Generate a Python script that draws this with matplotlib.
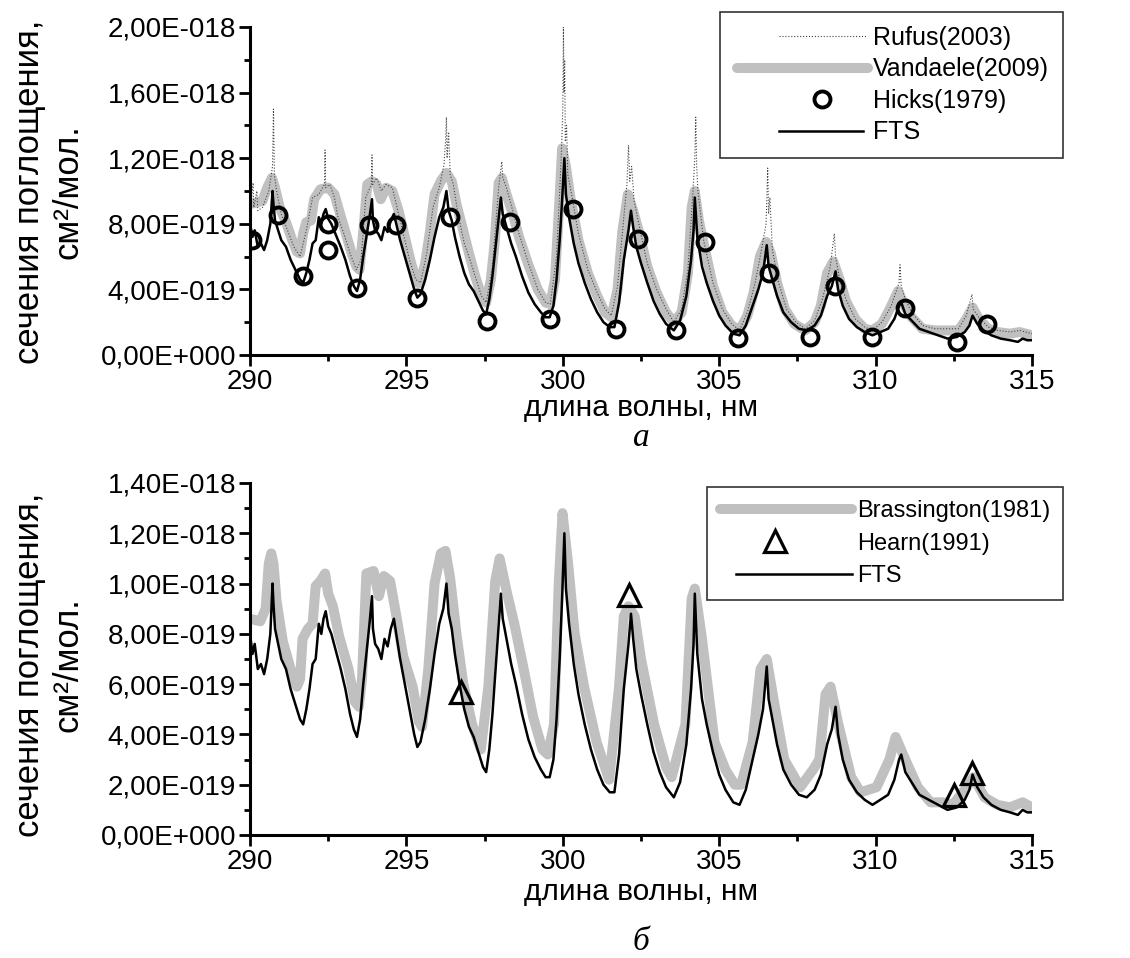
import numpy as np
import matplotlib.pyplot as plt
from matplotlib.ticker import FixedLocator, FuncFormatter
from matplotlib.legend_handler import HandlerLine2D

plt.rcParams['font.family'] = ['Liberation Sans', 'DejaVu Sans']

# all cross sections below are in units of 1e-19 cm^2/molecule, (wavelength nm, value)
fts = [
    (290.00, 6.0), (290.02, 7.8), (290.08, 7.2), (290.15, 7.6), (290.25, 6.6), (290.35, 6.8),
    (290.45, 6.4), (290.55, 7.0), (290.65, 8.0), (290.72, 10.0), (290.75, 9.2), (290.80, 8.2),
    (290.90, 7.6), (291.00, 7.0), (291.15, 6.6), (291.30, 5.8), (291.45, 5.2), (291.60, 4.6),
    (291.70, 4.4), (291.80, 5.0), (291.90, 5.8), (292.00, 6.8), (292.10, 7.0), (292.20, 8.4),
    (292.28, 8.0), (292.35, 8.6), (292.42, 8.9), (292.50, 8.3), (292.60, 8.0), (292.75, 7.3),
    (292.90, 6.6), (293.05, 5.8), (293.20, 4.8), (293.32, 4.2), (293.42, 3.9), (293.52, 4.6),
    (293.62, 6.0), (293.72, 7.2), (293.82, 8.4), (293.90, 9.5), (293.93, 8.2), (294.00, 7.6),
    (294.10, 7.4), (294.20, 7.0), (294.30, 7.8), (294.40, 7.5), (294.50, 8.2), (294.60, 8.6),
    (294.70, 7.8), (294.80, 7.0), (294.95, 6.0), (295.10, 5.0), (295.25, 4.0), (295.35, 3.5),
    (295.45, 3.7), (295.60, 4.6), (295.75, 5.8), (295.90, 7.2), (296.05, 8.4), (296.18, 9.0),
    (296.28, 10.0), (296.35, 8.8), (296.45, 8.2), (296.55, 7.2), (296.70, 6.0), (296.85, 5.0),
    (297.00, 4.3), (297.15, 3.9), (297.30, 3.3), (297.45, 2.7), (297.55, 2.5), (297.65, 3.4),
    (297.75, 4.8), (297.85, 6.6), (297.95, 8.4), (298.02, 9.6), (298.08, 8.6), (298.20, 7.8),
    (298.35, 6.8), (298.50, 6.0), (298.70, 4.8), (298.90, 3.8), (299.10, 3.1), (299.30, 2.6),
    (299.45, 2.3), (299.58, 2.3), (299.70, 3.0), (299.80, 4.6), (299.90, 7.0), (299.98, 9.5),
    (300.05, 12.0), (300.10, 9.8), (300.20, 8.4), (300.35, 6.8), (300.50, 5.6), (300.70, 4.4),
    (300.90, 3.4), (301.10, 2.6), (301.30, 2.0), (301.50, 1.7), (301.65, 1.7), (301.80, 3.2),
    (301.95, 5.8), (302.10, 7.6), (302.18, 8.8), (302.25, 7.8), (302.35, 6.6), (302.50, 5.6),
    (302.70, 4.4), (302.90, 3.3), (303.10, 2.5), (303.30, 1.9), (303.55, 1.5), (303.75, 2.1),
    (303.95, 3.6), (304.10, 5.8), (304.18, 7.6), (304.22, 9.6), (304.30, 7.2), (304.45, 5.4),
    (304.60, 4.4), (304.80, 3.3), (305.00, 2.4), (305.20, 1.8), (305.45, 1.3), (305.65, 1.2),
    (305.85, 1.8), (306.05, 2.9), (306.25, 4.0), (306.40, 5.0), (306.52, 6.7), (306.58, 5.4),
    (306.70, 4.6), (306.85, 3.6), (307.05, 2.6), (307.30, 2.0), (307.55, 1.6), (307.80, 1.5),
    (308.05, 1.8), (308.25, 2.4), (308.45, 3.6), (308.60, 4.2), (308.72, 5.1), (308.80, 4.0),
    (308.95, 3.0), (309.15, 2.2), (309.40, 1.7), (309.65, 1.4), (309.90, 1.2), (310.15, 1.4),
    (310.40, 1.6), (310.60, 2.2), (310.75, 3.0), (310.82, 3.2), (310.95, 2.5), (311.15, 2.1),
    (311.40, 1.6), (311.70, 1.4), (312.00, 1.2), (312.30, 1.0), (312.60, 1.1), (312.85, 1.4),
    (313.00, 1.8), (313.10, 2.4), (313.25, 1.9), (313.45, 1.5), (313.70, 1.2), (314.00, 1.0),
    (314.30, 0.9), (314.55, 0.8), (314.70, 1.0), (314.85, 0.9), (315.00, 0.9),
]

vandaele = [
    (290.00, 9.2), (290.20, 9.3), (290.40, 9.4), (290.55, 10.2), (290.70, 10.8), (290.80, 10.2),
    (290.95, 9.0), (291.15, 8.1), (291.35, 7.0), (291.50, 6.3), (291.60, 6.2), (291.70, 7.4),
    (291.80, 8.1), (291.95, 8.2), (292.05, 9.5), (292.25, 10.1), (292.50, 10.2), (292.70, 9.8),
    (292.85, 8.8), (293.05, 7.5), (293.25, 6.2), (293.40, 5.4), (293.50, 5.2), (293.62, 7.5),
    (293.75, 10.4), (293.90, 10.6), (294.05, 10.4), (294.18, 9.5), (294.35, 10.2), (294.55, 10.0),
    (294.75, 8.8), (294.95, 7.2), (295.15, 5.6), (295.35, 4.4), (295.45, 4.4), (295.60, 5.6),
    (295.75, 7.5), (295.90, 9.8), (296.10, 10.6), (296.28, 11.1), (296.45, 10.6), (296.60, 9.2),
    (296.80, 7.7), (297.00, 6.2), (297.20, 4.8), (297.40, 3.6), (297.55, 3.2), (297.70, 4.6),
    (297.82, 6.8), (297.95, 10.5), (298.05, 10.8), (298.20, 9.8), (298.40, 8.6), (298.60, 7.2),
    (298.90, 5.5), (299.20, 4.0), (299.45, 3.2), (299.60, 3.1), (299.75, 4.6), (299.88, 9.0),
    (299.98, 12.6), (300.10, 11.5), (300.25, 9.5), (300.50, 7.0), (300.80, 5.0), (301.10, 3.6),
    (301.35, 2.6), (301.55, 2.3), (301.75, 4.0), (301.90, 7.5), (302.08, 9.8), (302.25, 8.8),
    (302.45, 7.4), (302.70, 5.4), (303.00, 3.8), (303.30, 2.6), (303.55, 2.0), (303.80, 2.6),
    (304.00, 5.0), (304.12, 9.0), (304.22, 10.0), (304.35, 8.2), (304.55, 6.4), (304.80, 4.2),
    (305.10, 2.6), (305.40, 1.8), (305.65, 1.5), (305.90, 2.4), (306.10, 3.8), (306.30, 6.0),
    (306.50, 6.9), (306.65, 6.2), (306.85, 4.4), (307.10, 2.8), (307.40, 1.9), (307.75, 1.5),
    (308.05, 2.0), (308.25, 3.0), (308.45, 5.0), (308.65, 5.7), (308.85, 4.6), (309.05, 3.3),
    (309.35, 2.2), (309.65, 1.6), (309.90, 1.5), (310.20, 1.9), (310.45, 2.8), (310.72, 3.9),
    (310.90, 3.1), (311.15, 2.3), (311.50, 1.6), (311.90, 1.5), (312.30, 1.5), (312.65, 1.5),
    (312.90, 2.2), (313.10, 2.9), (313.30, 2.2), (313.60, 1.6), (313.90, 1.4), (314.30, 1.3),
    (314.60, 1.4), (314.80, 1.3), (315.00, 1.2),
]

rufus = [
    (290.00, 8.8), (290.10, 10.5), (290.12, 9.0), (290.22, 10.0), (290.25, 8.8), (290.40, 9.0),
    (290.60, 10.0), (290.72, 11.5), (290.75, 15.0), (290.78, 11.0), (290.85, 10.0), (291.00, 8.6),
    (291.20, 7.6), (291.40, 6.6), (291.60, 6.0), (291.80, 7.6), (292.00, 9.6), (292.20, 9.8),
    (292.38, 10.4), (292.40, 12.5), (292.42, 10.2), (292.55, 10.4), (292.70, 9.6), (292.80, 8.5),
    (293.00, 7.4), (293.20, 6.2), (293.40, 5.2), (293.55, 5.8), (293.70, 9.6), (293.88, 10.4),
    (293.90, 12.2), (293.92, 10.4), (294.05, 10.8), (294.20, 10.0), (294.35, 10.4), (294.55, 10.2),
    (294.70, 9.0), (294.90, 7.4), (295.10, 5.8), (295.30, 4.6), (295.45, 4.4), (295.65, 6.2),
    (295.85, 9.0), (296.05, 10.2), (296.20, 11.6), (296.25, 13.0), (296.28, 14.5), (296.30, 12.0),
    (296.35, 13.6), (296.40, 11.0), (296.50, 10.4), (296.65, 8.6), (296.85, 6.8), (297.00, 6.0),
    (297.20, 4.8), (297.40, 3.6), (297.55, 3.2), (297.75, 5.4), (297.95, 10.2), (298.05, 11.8),
    (298.08, 10.8), (298.20, 10.2), (298.40, 8.8), (298.60, 7.4), (298.90, 5.6), (299.20, 4.0),
    (299.45, 3.2), (299.60, 3.1), (299.80, 6.0), (299.95, 12.0), (300.00, 15.0), (300.02, 20.0),
    (300.04, 16.0), (300.06, 18.0), (300.08, 13.0), (300.12, 14.0), (300.16, 11.0), (300.30, 9.6),
    (300.50, 7.4), (300.80, 5.2), (301.10, 3.8), (301.35, 2.8), (301.55, 2.4), (301.75, 4.2),
    (301.95, 8.4), (302.05, 10.4), (302.10, 12.8), (302.14, 10.6), (302.20, 11.5), (302.28, 9.4),
    (302.45, 7.8), (302.70, 5.6), (303.00, 4.0), (303.30, 2.8), (303.55, 2.0), (303.80, 2.8),
    (304.00, 5.2), (304.15, 9.6), (304.22, 12.0), (304.25, 14.5), (304.28, 11.5), (304.32, 10.0),
    (304.50, 7.0), (304.80, 4.4), (305.10, 2.8), (305.40, 1.9), (305.65, 1.5), (305.90, 2.6),
    (306.15, 4.4), (306.35, 6.4), (306.50, 8.0), (306.55, 11.4), (306.58, 8.6), (306.62, 9.6),
    (306.70, 6.4), (306.90, 4.4), (307.15, 2.8), (307.45, 2.0), (307.75, 1.6), (308.05, 2.1),
    (308.30, 3.4), (308.55, 5.4), (308.68, 7.4), (308.72, 6.0), (308.85, 4.6), (309.05, 3.4),
    (309.35, 2.2), (309.65, 1.7), (309.90, 1.5), (310.20, 2.0), (310.50, 3.0), (310.75, 4.4),
    (310.78, 5.5), (310.82, 4.2), (310.95, 3.4), (311.15, 2.6), (311.50, 1.8), (311.90, 1.6),
    (312.30, 1.6), (312.65, 1.6), (312.90, 2.4), (313.08, 3.7), (313.12, 2.8), (313.30, 2.3),
    (313.60, 1.7), (313.90, 1.5), (314.30, 1.4), (314.60, 1.5), (314.80, 1.4), (315.00, 1.3),
]

brassington = [
    (290.00, 8.6), (290.33, 8.5), (290.50, 9.0), (290.60, 10.8), (290.68, 11.2), (290.75, 10.8),
    (290.85, 9.3), (291.05, 7.7), (291.30, 6.6), (291.50, 5.9), (291.60, 6.2), (291.68, 7.8),
    (291.85, 8.2), (292.00, 8.4), (292.10, 9.9), (292.25, 10.1), (292.40, 10.4), (292.50, 9.6),
    (292.65, 9.1), (292.85, 7.9), (293.15, 6.6), (293.35, 5.3), (293.48, 5.1), (293.58, 6.2),
    (293.72, 10.4), (293.95, 10.5), (294.12, 9.5), (294.28, 10.3), (294.48, 10.1), (294.68, 8.7),
    (294.90, 7.1), (295.20, 5.9), (295.40, 4.5), (295.50, 4.3), (295.70, 6.6), (295.90, 10.0),
    (296.10, 11.2), (296.25, 11.3), (296.40, 10.2), (296.60, 8.0), (296.82, 6.0), (297.10, 4.4),
    (297.38, 3.4), (297.62, 5.9), (297.84, 10.1), (297.98, 11.0), (298.22, 9.6), (298.45, 8.4),
    (298.75, 6.6), (299.05, 4.7), (299.35, 3.4), (299.52, 3.2), (299.72, 4.4), (299.87, 10.0),
    (299.99, 12.8), (300.17, 10.8), (300.38, 8.0), (300.68, 5.9), (301.08, 3.7), (301.48, 2.2),
    (301.80, 5.9), (301.95, 8.7), (302.10, 9.1), (302.30, 8.7), (302.50, 7.0), (302.92, 4.4),
    (303.30, 2.7), (303.48, 2.3), (303.92, 4.4), (304.12, 9.4), (304.22, 9.8), (304.44, 7.9),
    (304.85, 3.7), (305.20, 2.6), (305.50, 2.0), (305.70, 2.0), (306.07, 3.7), (306.32, 6.6),
    (306.52, 7.0), (306.78, 5.1), (307.08, 3.0), (307.59, 1.9), (308.00, 2.6), (308.20, 3.0),
    (308.40, 5.6), (308.56, 5.9), (308.81, 4.4), (309.22, 2.3), (309.52, 1.7), (310.03, 1.9),
    (310.44, 3.0), (310.64, 3.9), (310.95, 3.0), (311.35, 1.9), (311.76, 1.3), (312.16, 1.3),
    (312.47, 1.2), (312.97, 2.0), (313.13, 2.3), (313.48, 1.5), (313.89, 1.2), (314.30, 1.1),
    (314.70, 1.3), (315.00, 1.1),
]

hicks = [
    (290.05, 7.0), (290.90, 8.55), (291.70, 4.8), (292.50, 8.0), (292.50, 6.4), (293.42, 4.1),
    (293.80, 7.9), (294.67, 7.9), (295.33, 3.5), (296.39, 8.4), (297.57, 2.1), (298.32, 8.1),
    (299.58, 2.2), (300.33, 8.9), (301.70, 1.6), (302.42, 7.1), (303.62, 1.5), (304.55, 6.9),
    (305.60, 1.05), (306.60, 5.0), (307.90, 1.1), (308.70, 4.2), (309.90, 1.1), (310.95, 2.85),
    (312.60, 0.8), (313.55, 1.9),
]

hearn = [(296.73, 5.7), (302.13, 9.56), (312.50, 1.6), (313.08, 2.45)]


def xy(points):
    arr = np.array(points)
    return arr[:, 0], arr[:, 1] * 1e-19


def sci_comma(v, pos):
    s = f"{v:.2E}"
    mant, ex = s.split('E')
    ex = int(ex)
    sign = '-' if ex < 0 else '+'
    return f"{mant.replace('.', ',')}E{sign}{abs(ex):03d}"


class PartLine(HandlerLine2D):
    # draws the legend line only over the part [a, b] of the handle box
    def __init__(self, a, b, **kw):
        super().__init__(**kw)
        self.a, self.b = a, b

    def create_artists(self, legend, orig_handle, xdescent, ydescent, width, height, fontsize, trans):
        x0 = xdescent - self.a * width
        w = (self.b - self.a) * width
        return super().create_artists(legend, orig_handle, x0, ydescent, w, height, fontsize, trans)


def style(ax, nsteps, ystep):
    ymax = nsteps * ystep
    ax.set_xlim(290, 315)
    ax.set_ylim(0, ymax)
    ax.xaxis.set_major_locator(FixedLocator([290, 295, 300, 305, 310, 315]))
    ax.xaxis.set_minor_locator(FixedLocator([292.5, 297.5, 302.5, 307.5, 312.5]))
    ax.yaxis.set_major_locator(FixedLocator([i * ystep for i in range(nsteps + 1)]))
    ax.yaxis.set_minor_locator(FixedLocator([(i + 0.5) * ystep for i in range(nsteps)]))
    ax.yaxis.set_major_formatter(FuncFormatter(sci_comma))
    for s in ['top', 'right']:
        ax.spines[s].set_visible(False)
    for s in ['left', 'bottom']:
        ax.spines[s].set_linewidth(2.2)
    ax.tick_params(which='major', length=8, width=2, labelsize=20, pad=2)
    ax.tick_params(which='minor', length=4.5, width=2)


W, H = 1130, 958
fig = plt.figure(figsize=(W / 100, H / 100), dpi=100)
leg_kw = dict(bbox_transform=fig.transFigure, loc='upper right', numpoints=1,
              fancybox=False, edgecolor='#333333', framealpha=1, handletextpad=0.2,
              borderpad=0.55, borderaxespad=0)

# top panel
ax1 = fig.add_axes([250 / W, 1 - 355 / H, (1032 - 250) / W, (355 - 27) / H])
x, y = xy(vandaele)
h_vand, = ax1.plot(x, y, color='#c0c0c0', lw=7.2, solid_capstyle='round', zorder=1)
x, y = xy(rufus)
h_rufus, = ax1.plot(x, y, color='#444444', lw=0.8, ls=':', zorder=2)
x, y = xy(fts)
h_fts, = ax1.plot(x, y, color='black', lw=1.8, zorder=3)
x, y = xy(hicks)
h_hicks, = ax1.plot(x, y, ls='none', marker='o', ms=11.5, mfc='none', mec='black', mew=2.8, zorder=4)
style(ax1, 5, 4e-19)

leg1 = ax1.legend([h_rufus, h_vand, h_hicks, h_fts],
                  ['Rufus(2003)', 'Vandaele(2009)', 'Hicks(1979)', 'FTS'],
                  bbox_to_anchor=(1063 / W, 1 - 12 / H), handlelength=5.4, fontsize=18,
                  labelspacing=0.3,
                  handler_map={h_vand: PartLine(0.03, 1.0), h_rufus: PartLine(0.34, 0.98),
                               h_hicks: PartLine(0.34, 0.98), h_fts: PartLine(0.34, 0.96)},
                  **leg_kw)
leg1.get_frame().set_linewidth(1.2)

# bottom panel
ax2 = fig.add_axes([250 / W, 1 - 835 / H, (1032 - 250) / W, (835 - 483) / H])
x, y = xy(brassington)
h_bras, = ax2.plot(x, y, color='#c0c0c0', lw=7.2, solid_capstyle='round', zorder=1)
x, y = xy(fts)
h_fts2, = ax2.plot(x, y, color='black', lw=1.8, zorder=3)
x, y = xy(hearn)
h_hearn, = ax2.plot(x, y, ls='none', marker='^', ms=16, mfc='none', mec='black', mew=2.3, zorder=4)
style(ax2, 7, 2e-19)

leg2 = ax2.legend([h_bras, h_hearn, h_fts2],
                  ['Brassington(1981)', 'Hearn(1991)', 'FTS'],
                  bbox_to_anchor=(1063 / W, 1 - 487 / H), handlelength=5.6, fontsize=17,
                  labelspacing=0.45,
                  handler_map={h_bras: PartLine(0.0, 1.0), h_hearn: PartLine(0.32, 0.52),
                               h_fts2: PartLine(0.12, 1.0)},
                  **leg_kw)
leg2.get_frame().set_linewidth(1.2)

# axis titles and panel letters
ylab = 'сечения поглощения,\nсм²/мол.'
fig.text(49 / W, 1 - 192 / H, ylab, rotation=90, ha='center', va='center',
         fontsize=25, linespacing=1.2, multialignment='center')
fig.text(49 / W, 1 - 665 / H, ylab, rotation=90, ha='center', va='center',
         fontsize=25, linespacing=1.2, multialignment='center')
fig.text(641 / W, 1 - 408 / H, 'длина волны, нм', ha='center', va='center', fontsize=21.5)
fig.text(641 / W, 1 - 892 / H, 'длина волны, нм', ha='center', va='center', fontsize=21.5)
fig.text(641 / W, 1 - 438 / H, 'а', ha='center', va='center', fontsize=24,
         family='Liberation Serif', style='italic')
fig.text(641 / W, 1 - 942 / H, 'б', ha='center', va='center', fontsize=24,
         family='Liberation Serif', style='italic')

fig.savefig('out.png', dpi=100)
